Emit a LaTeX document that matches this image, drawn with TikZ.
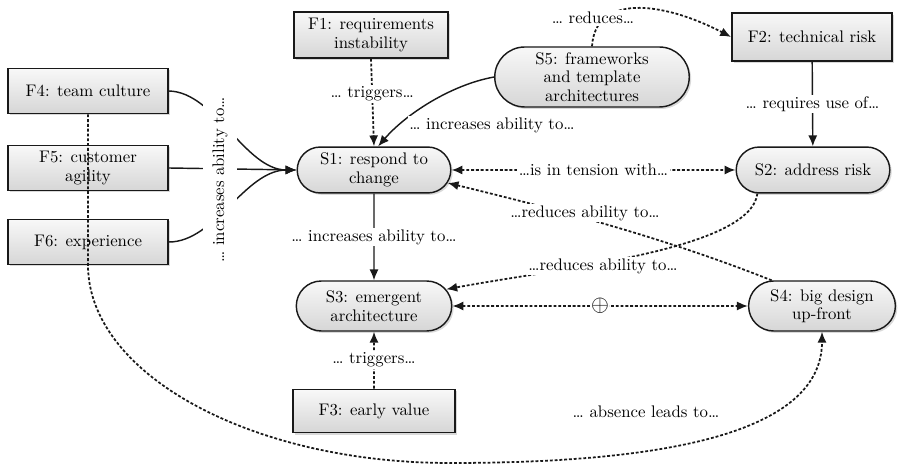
\documentclass[tikz,border=0pt]{standalone}
\usepackage{fontspec}
\usetikzlibrary{arrows.meta,positioning,shapes.misc,shadows}
\definecolor{boxtop}{RGB}{248,248,248}
\definecolor{boxbot}{RGB}{214,214,214}
\definecolor{inkgray}{RGB}{25,25,25}

\begin{document}
\begin{tikzpicture}[x=0.022cm,y=-0.022cm,font=\fontsize{10.5}{11.5}\selectfont,
  >={Latex[length=2.4mm,width=2mm]},
  fac/.style={rectangle,draw=inkgray,line width=1.1pt,top color=boxtop,bottom color=boxbot,
    drop shadow={shadow xshift=1.2pt,shadow yshift=-1.2pt,opacity=0.3},align=center,inner sep=2pt},
  strat/.style={rounded rectangle,draw=inkgray,line width=0.9pt,top color=boxtop,bottom color=boxbot,
    drop shadow={shadow xshift=1.2pt,shadow yshift=-1.2pt,opacity=0.3},align=center,inner sep=2pt},
  lbl/.style={fill=white,inner sep=1pt},
  solarr/.style={->,line width=0.9pt,draw=inkgray},
  dotarr/.style={->,line width=1.1pt,draw=inkgray,dash pattern=on 1.8pt off 1.2pt}]
\useasboundingbox (0,0) rectangle (898,466);
% factors
\node[fac,minimum width=3.39cm,minimum height=1.01cm] (f1) at (371,35) {F1: requirements\\instability};
\node[fac,minimum width=3.52cm,minimum height=1.06cm] (f2) at (812,37) {F2: technical risk};
\node[fac,minimum width=3.56cm,minimum height=0.95cm] (f3) at (374,411) {F3: early value};
\node[fac,minimum width=3.52cm,minimum height=0.99cm] (f4) at (88,91) {F4: team culture};
\node[fac,minimum width=3.52cm,minimum height=0.99cm] (f5) at (88,168) {F5: customer\\agility};
\node[fac,minimum width=3.52cm,minimum height=0.99cm] (f6) at (88,242) {F6: experience};
% strategies
\node[strat,minimum width=3.52cm,minimum height=1.01cm] (s1) at (374,170) {S1: respond to\\change};
\node[strat,minimum width=3.52cm,minimum height=1.01cm] (s2) at (813,170) {S2: address risk};
\node[strat,minimum width=3.56cm,minimum height=1.1cm] (s3) at (374,306) {S3: emergent\\architecture};
\node[strat,minimum width=3.37cm,minimum height=1.1cm] (s4) at (822,306) {S4: big design\\up-front};
\node[strat,minimum width=4.42cm,minimum height=1.32cm] (s5) at (592,77) {S5: frameworks\\and template\\architectures};
% edges
\draw[dotarr] (f1.south) -- node[lbl,pos=0.4] (ltrig1) {… triggers…} (s1.north);
\draw[solarr] (s5.west) .. controls (450,85) and (405,115) .. (s1.80);
\node[lbl] (lincr1) at (492,125) {… increases ability to…};
\draw[dotarr] (s5.north) .. controls (595,-5) and (660,0) .. (f2.west);
\node[lbl] (lred) at (593,18) {… reduces…};
\draw[solarr] (f2) -- node[lbl] (lreq) {… requires use of…} (s2);
\draw[dotarr,<->] (s1) -- node[lbl] (lten) {…is in tension with…} (s2);
\draw[dotarr] (s4.153) .. controls (665,238) and (559,210) .. (s1.-10);
\node[lbl] (lred1) at (585,213) {…reduces ability to…};
\draw[dotarr] (s2.203) .. controls (750,250) and (560,268) .. (s3.13);
\node[lbl] (lred2) at (603,266) {…reduces ability to…};
\draw[dotarr,<->] (s3) -- node[fill=white,inner sep=0pt,font=\Large] (plus) {$\oplus$} (s4);
\draw[solarr] (s1) -- node[lbl] (lincr2) {… increases ability to…} (s3);
\draw[dotarr] (f3) -- node[lbl] (ltrig2) {… triggers…} (s3);
% factors F4-F6 into S1
\draw[solarr] (f4.east) .. controls (215,92) and (245,170) .. (s1.west);
\draw[solarr] (f5.east) -- (s1.west);
\draw[solarr] (f6.east) .. controls (215,242) and (245,170) .. (s1.west);
\node[lbl,rotate=90,inner ysep=6pt,inner xsep=2pt] (lincr3) at (220,180) {… increases ability to…};
% absence of team culture
\draw[dotarr] (f4.south) -- (88,265) .. controls (88,374) and (251,463) .. (450,463)
  .. controls (640,463) and (822,440) .. (s4.south);
\node (labs) at (646,412) {… absence leads to…};
\end{tikzpicture}
\end{document}
